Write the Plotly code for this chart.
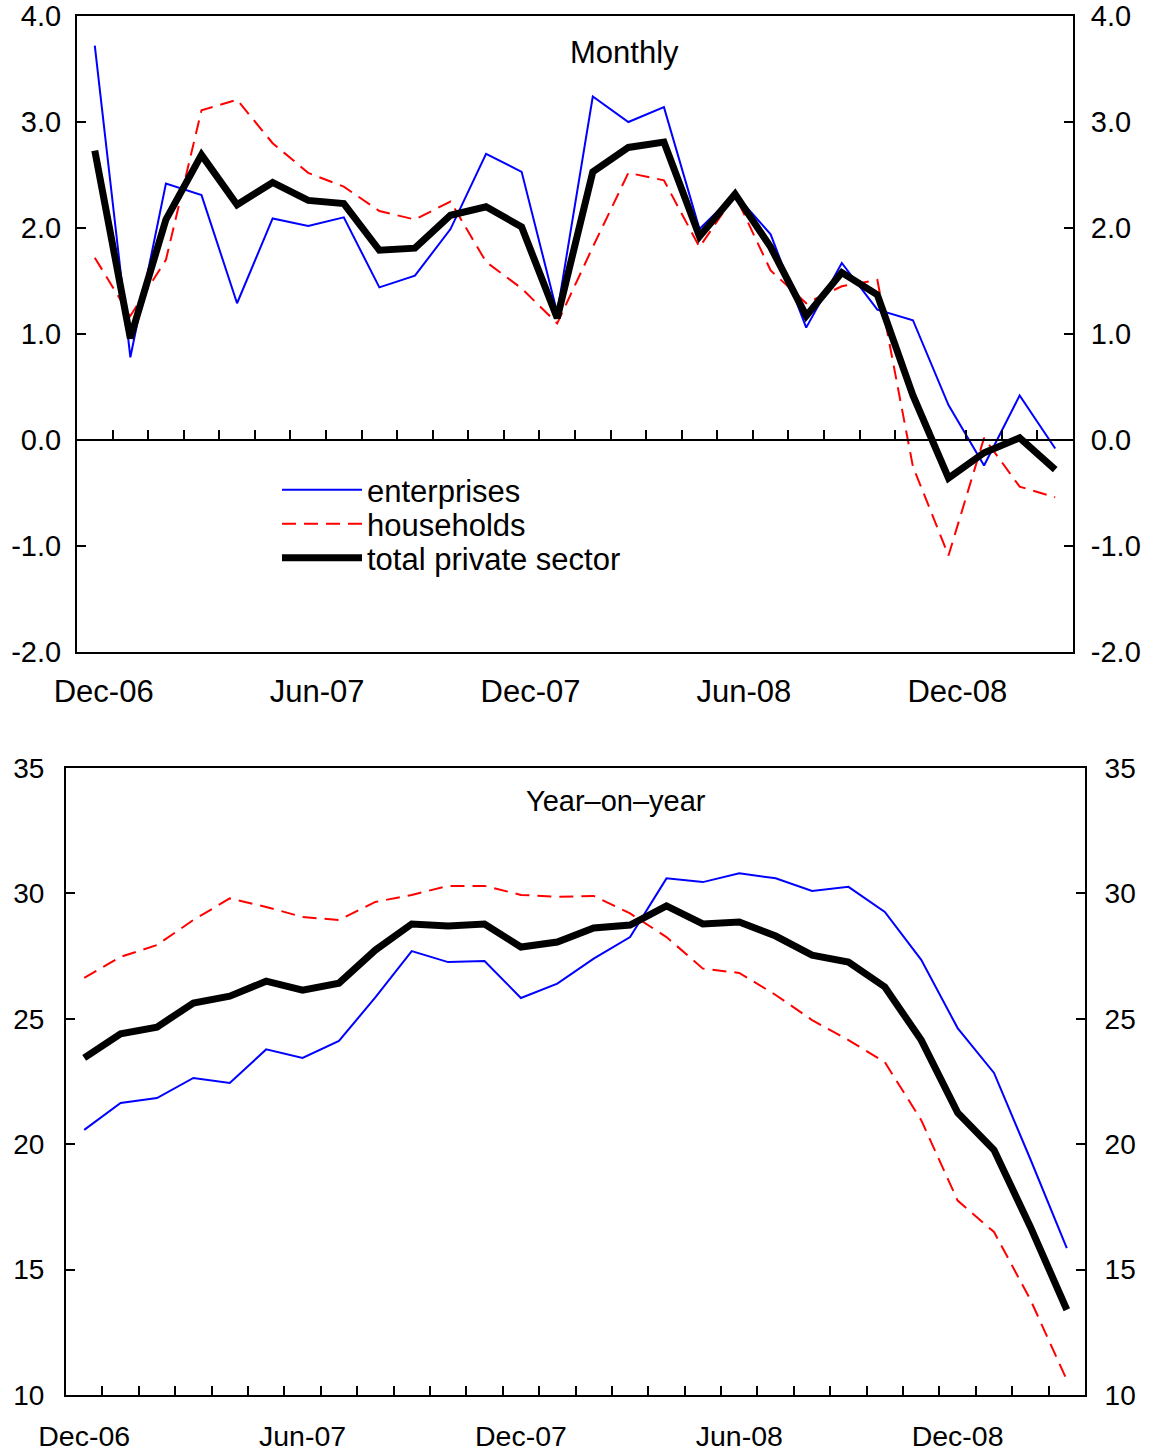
import plotly.graph_objects as go

months = ["Dec-06", "Jan-07", "Feb-07", "Mar-07", "Apr-07", "May-07", "Jun-07",
          "Jul-07", "Aug-07", "Sep-07", "Oct-07", "Nov-07", "Dec-07", "Jan-08",
          "Feb-08", "Mar-08", "Apr-08", "May-08", "Jun-08", "Jul-08", "Aug-08",
          "Sep-08", "Oct-08", "Nov-08", "Dec-08", "Jan-09", "Feb-09", "Mar-09"]

monthly_enterprises = [3.72, 0.78, 2.42, 2.31, 1.29, 2.09, 2.02, 2.10, 1.44, 1.55,
                       1.99, 2.70, 2.53, 1.20, 3.24, 3.00, 3.14, 1.99, 2.32, 1.94,
                       1.06, 1.67, 1.23, 1.13, 0.33, -0.24, 0.42, -0.08]
monthly_households = [1.72, 1.17, 1.70, 3.11, 3.21, 2.80, 2.52, 2.39, 2.16, 2.08,
                      2.25, 1.68, 1.43, 1.10, 1.82, 2.52, 2.45, 1.82, 2.31, 1.60,
                      1.29, 1.45, 1.51, -0.25, -1.09, 0.02, -0.44, -0.54]
monthly_total = [2.73, 0.96, 2.08, 2.69, 2.22, 2.43, 2.26, 2.23, 1.79, 1.81,
                 2.12, 2.20, 2.01, 1.15, 2.53, 2.76, 2.81, 1.92, 2.32, 1.82,
                 1.17, 1.58, 1.37, 0.42, -0.36, -0.12, 0.02, -0.28]

yoy_enterprises = [20.57, 21.64, 21.84, 22.64, 22.44, 23.78, 23.44, 24.12, 25.85, 27.70,
                   27.26, 27.30, 25.83, 26.40, 27.40, 28.26, 30.60, 30.45, 30.80, 30.60,
                   30.10, 30.26, 29.26, 27.35, 24.63, 22.84, 19.40, 15.86]
yoy_households = [26.63, 27.47, 27.94, 28.94, 29.80, 29.46, 29.06, 28.94, 29.66, 29.94,
                  30.30, 30.30, 29.94, 29.86, 29.90, 29.20, 28.26, 27.00, 26.83, 25.95,
                  24.95, 24.15, 23.27, 20.96, 17.75, 16.50, 13.80, 10.60]
yoy_total = [23.44, 24.40, 24.67, 25.63, 25.90, 26.50, 26.14, 26.42, 27.74, 28.78,
             28.70, 28.78, 27.86, 28.06, 28.62, 28.74, 29.50, 28.78, 28.86, 28.30,
             27.54, 27.26, 26.27, 24.15, 21.26, 19.77, 16.70, 13.40]

x_tick_labels = ["Dec-06", "Jun-07", "Dec-07", "Jun-08", "Dec-08"]
monthly_y_ticks = [-2, -1, 0, 1, 2, 3, 4]
monthly_y_labels = ["-2.0", "-1.0", "0.0", "1.0", "2.0", "3.0", "4.0"]
yoy_y_ticks = [10, 15, 20, 25, 30, 35]
yoy_y_labels = ["10", "15", "20", "25", "30", "35"]

series_names = ["enterprises", "households", "total private sector"]

W, H = 1156, 1453
FONT = "Liberation Sans, Arial, sans-serif"

x = list(range(len(months)))
label_idx = [months.index(m) for m in x_tick_labels]
minor_ticks = [i + 0.5 for i in range(len(months) - 1)]
xr = [-0.5, len(months) - 0.5]


def px_x(a, b):
    return [a / W, b / W]


def px_y(top, bottom):
    return [(H - bottom) / H, (H - top) / H]


top_dom_x = px_x(77, 1073)
top_dom_y = px_y(16, 652)
bot_dom_x = px_x(66, 1085)
bot_dom_y = px_y(768, 1395)
zero_pos = top_dom_y[0] + (0 - (-2)) / 6 * (top_dom_y[1] - top_dom_y[0])

styles = [
    dict(color="#0000FF", width=2),
    dict(color="#FF0000", width=2, dash="14px,8px"),
    dict(color="#000000", width=7),
]
legend_ids = ["legend", "legend2", "legend3"]
legend_rows_px = [490, 524, 558]

fig = go.Figure()
for name, ys, st, lg in zip(series_names, [monthly_enterprises, monthly_households, monthly_total],
                            styles, legend_ids):
    fig.add_trace(go.Scatter(x=x, y=ys, mode="lines", name=name, line=st,
                             xaxis="x", yaxis="y", showlegend=True, legend=lg))
for name, ys, st in zip(series_names, [yoy_enterprises, yoy_households, yoy_total], styles):
    fig.add_trace(go.Scatter(x=x, y=ys, mode="lines", name=name, line=st,
                             xaxis="x2", yaxis="y3", showlegend=False))
# invisible helpers so overlay axes get drawn
fig.add_trace(go.Scatter(x=x, y=monthly_total, mode="lines", line=dict(width=0), opacity=0,
                         xaxis="x", yaxis="y2", showlegend=False, hoverinfo="skip"))
fig.add_trace(go.Scatter(x=x, y=monthly_total, mode="lines", line=dict(width=0), opacity=0,
                         xaxis="x3", yaxis="y", showlegend=False, hoverinfo="skip"))
fig.add_trace(go.Scatter(x=x, y=yoy_total, mode="lines", line=dict(width=0), opacity=0,
                         xaxis="x2", yaxis="y4", showlegend=False, hoverinfo="skip"))

axis_common = dict(showgrid=False, zeroline=False, linecolor="black", linewidth=2,
                   showline=True, automargin=False, tickcolor="black")

legend_common = dict(xanchor="left", yanchor="middle", bgcolor="rgba(0,0,0,0)",
                     font=dict(size=31), itemwidth=80)

layout_legends = {}
for lg, row in zip(legend_ids, legend_rows_px):
    layout_legends[lg] = dict(legend_common, x=277 / W, y=(H - row) / H)

fig.update_layout(
    width=W, height=H,
    margin=dict(l=0, r=0, t=0, b=0),
    paper_bgcolor="white", plot_bgcolor="white",
    font=dict(family=FONT, color="black"),
    xaxis=dict(**axis_common, domain=top_dom_x, range=xr, anchor="y", mirror=True,
               tickmode="array", tickvals=[i + 0.25 for i in label_idx], ticktext=x_tick_labels,
               ticks="", tickfont=dict(size=31), ticklabelstandoff=11),
    xaxis3=dict(**axis_common, domain=top_dom_x, range=xr, overlaying="x", anchor="free",
                position=zero_pos, tickmode="array", tickvals=minor_ticks, ticks="inside",
                ticklen=9, tickwidth=2, showticklabels=False),
    yaxis=dict(**axis_common, domain=top_dom_y, range=[-2, 4], anchor="x",
               tickmode="array", tickvals=monthly_y_ticks, ticktext=monthly_y_labels,
               ticks="inside", ticklen=9, tickwidth=2, tickfont=dict(size=29),
               ticklabelstandoff=8),
    yaxis2=dict(**axis_common, domain=top_dom_y, range=[-2, 4], overlaying="y", side="right",
                anchor="x", tickmode="array", tickvals=monthly_y_ticks, ticktext=monthly_y_labels,
                ticks="inside", ticklen=9, tickwidth=2, tickfont=dict(size=29),
                ticklabelstandoff=10),
    xaxis2=dict(**axis_common, domain=bot_dom_x, range=xr, anchor="y3", mirror=True,
                tickmode="array", tickvals=label_idx, ticktext=x_tick_labels,
                ticks="", tickfont=dict(size=28.5), ticklabelstandoff=15,
                minor=dict(tickmode="array", tickvals=minor_ticks, ticks="inside",
                           ticklen=9, tickwidth=2, tickcolor="black")),
    yaxis3=dict(**axis_common, domain=bot_dom_y, range=[10, 35], anchor="x2",
                tickmode="array", tickvals=yoy_y_ticks, ticktext=yoy_y_labels,
                ticks="inside", ticklen=9, tickwidth=2, tickfont=dict(size=28),
                ticklabelstandoff=14),
    yaxis4=dict(**axis_common, domain=bot_dom_y, range=[10, 35], overlaying="y3", side="right",
                anchor="x2", tickmode="array", tickvals=yoy_y_ticks, ticktext=yoy_y_labels,
                ticks="inside", ticklen=9, tickwidth=2, tickfont=dict(size=28),
                ticklabelstandoff=12),
    annotations=[
        dict(text="Monthly", x=14.9, y=3.66, xref="x", yref="y", showarrow=False,
             font=dict(size=31), xanchor="center", yanchor="middle"),
        dict(text="Year\u2013on\u2013year", x=14.6, y=33.68, xref="x2", yref="y3", showarrow=False,
             font=dict(size=29), xanchor="center", yanchor="middle"),
    ],
    **layout_legends,
)

fig.write_html("out.html",
               config={"displayModeBar": False},
               post_script="document.body.style.margin='0';document.body.style.overflow='hidden';")
